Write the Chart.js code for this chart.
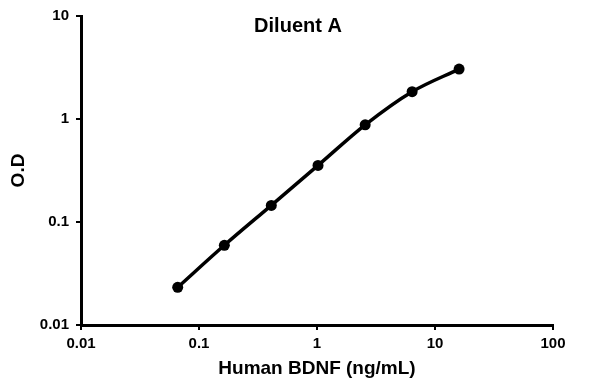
<!DOCTYPE html>
<html>
<head>
<meta charset="utf-8">
<script src="https://cdn.jsdelivr.net/npm/chart.js@4"></script>
<style>
  html, body { margin: 0; padding: 0; background: #fff; }
  #wrap { width: 596px; height: 384px; position: relative; }
</style>
</head>
<body>
<div id="wrap"><canvas id="c"></canvas></div>
<script>
const chartTitle = 'Diluent A';
const xTitle = 'Human BDNF (ng/mL)';
const yTitle = 'O.D';
const concentrations = [0.066, 0.164, 0.41, 1.02, 2.56, 6.4, 16];
const odValues = [0.0232, 0.0594, 0.145, 0.354, 0.877, 1.84, 3.05];
const xTickValues = [0.01, 0.1, 1, 10, 100];
const yTickValues = [0.01, 0.1, 1, 10];
const tickLabels = {0.01: '0.01', 0.1: '0.1', 1: '1', 10: '10', 100: '100'};

const FONT = "'Liberation Sans', Arial, sans-serif";

const titlePlugin = {
  id: 'innerTitle',
  afterDraw(chart) {
    const ctx = chart.ctx;
    ctx.save();
    ctx.font = 'bold 20px ' + FONT;
    ctx.fillStyle = '#000';
    ctx.textAlign = 'center';
    ctx.textBaseline = 'middle';
    ctx.fillText(chartTitle, chart.width / 2, 26);
    ctx.restore();
  }
};

new Chart(document.getElementById('c'), {
  type: 'line',
  data: {
    datasets: [{
      data: concentrations.map((x, i) => ({x: x, y: odValues[i]})),
      borderColor: '#000',
      backgroundColor: '#000',
      borderWidth: 3.5,
      pointRadius: 5.5,
      pointBorderWidth: 0,
      pointBackgroundColor: '#000',
      cubicInterpolationMode: 'monotone',
      fill: false
    }]
  },
  options: {
    responsive: true,
    maintainAspectRatio: false,
    animation: false,
    layout: { padding: { top: 15, right: 43, left: 0, bottom: 0 } },
    plugins: { legend: { display: false }, title: { display: false }, tooltip: { enabled: false } },
    scales: {
      x: {
        type: 'logarithmic',
        min: 0.01,
        max: 100,
        afterBuildTicks(scale) { scale.ticks = xTickValues.map(v => ({value: v})); },
        afterFit(scale) { scale.height = 59; },
        ticks: {
          color: '#000',
          font: { family: FONT, size: 15, weight: 'bold' },
          padding: 5,
          maxRotation: 0,
          autoSkip: false,
          callback: (v) => tickLabels[v] !== undefined ? tickLabels[v] : ''
        },
        grid: { display: true, drawOnChartArea: false, drawTicks: true, tickLength: 5, color: '#000', lineWidth: 2 },
        border: { display: true, color: '#000', width: 3 },
        title: {
          display: true,
          text: xTitle,
          color: '#000',
          font: { family: FONT, size: 19, weight: 'bold' },
          padding: { top: 0, bottom: 4 }
        }
      },
      y: {
        type: 'logarithmic',
        min: 0.01,
        max: 10,
        afterBuildTicks(scale) { scale.ticks = yTickValues.map(v => ({value: v})); },
        afterFit(scale) { scale.width = 81; },
        ticks: {
          color: '#000',
          font: { family: FONT, size: 15, weight: 'bold' },
          padding: 7,
          autoSkip: false,
          callback: (v) => tickLabels[v] !== undefined ? tickLabels[v] : ''
        },
        grid: { display: true, drawOnChartArea: false, drawTicks: true, tickLength: 5, color: '#000', lineWidth: 2 },
        border: { display: true, color: '#000', width: 3 },
        title: {
          display: true,
          text: yTitle,
          color: '#000',
          font: { family: FONT, size: 19, weight: 'bold' },
          padding: { top: 7, bottom: 0 }
        }
      }
    }
  },
  plugins: [titlePlugin]
});
</script>
</body>
</html>
